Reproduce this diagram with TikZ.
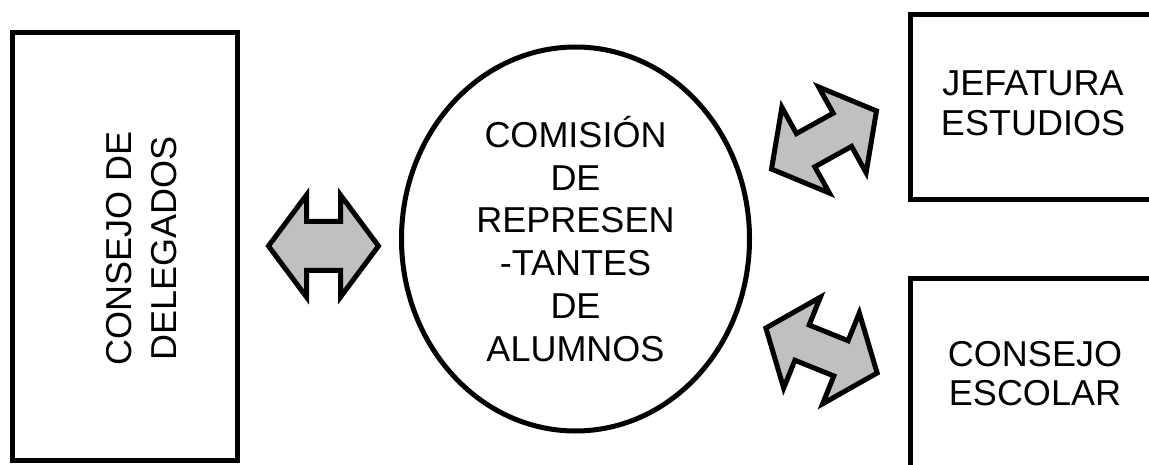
\documentclass[tikz,border=0pt]{standalone}
\usepackage{fontspec}
\setmainfont{Liberation Sans}
\usetikzlibrary{shapes.geometric}
\definecolor{arrowgray}{RGB}{192,192,192}
\tikzset{
  pics/dblarrow/.style n args={4}{code={%
    \path[blockarrow] (-#1,0) -- (-#2,#3) -- (-#2,#4) -- (#2,#4) -- (#2,#3) -- (#1,0)
      -- (#2,-#3) -- (#2,-#4) -- (-#2,-#4) -- (-#2,-#3) -- cycle;}}
}
\begin{document}
\begin{tikzpicture}[x=1pt,y=-1pt,
  box/.style={draw=black, line width=5pt, fill=white, inner sep=0pt},
  oval/.style={draw=black, line width=5pt, fill=white, ellipse, inner sep=0pt},
  lbl/.style={inner sep=0pt, align=center, anchor=north},
  blockarrow/.style={draw=black, line width=5pt, fill=arrowgray, line join=miter},
]
\useasboundingbox (0,0) rectangle (1149,465);
\clip (0,0) rectangle (1149,465);

% boxes
\node[box, minimum width=225.5pt, minimum height=427.5pt] (cd) at (124.75,246.25) {};
\node[box, minimum width=248pt, minimum height=185pt] (je) at (1034,107.5) {};
\node[box, minimum width=248pt, minimum height=190pt] (ce) at (1034,374) {};
\node[oval, minimum width=348pt, minimum height=384pt] (cra) at (575.5,239) {};

% texts
\node[lbl, rotate=90, font=\fontsize{36}{45}\selectfont] (cdt) at (95,248.5)
  {\rule{0pt}{36pt}CONSEJO DE\\DELEGADOS};
\node[lbl, font=\fontsize{36}{42.8}\selectfont] (crat) at (575.5,111)
  {\rule{0pt}{36pt}COMISIÓN\\DE\\REPRESEN\\-TANTES\\DE\\ALUMNOS};
\node[lbl, font=\fontsize{36}{40}\selectfont] (jet) at (1033,59)
  {\rule{0pt}{36pt}JEFATURA\\ESTUDIOS};
\node[lbl, font=\fontsize{36}{39}\selectfont] (cet) at (1035,330)
  {\rule{0pt}{36pt}CONSEJO\\ESCOLAR};

% block arrows
\pic (a1) at (323.5,246) {dblarrow={55}{17}{51}{24.5}};
\pic[rotate=29] (a2) at (824,140) {dblarrow={60}{21}{49}{19}};
\pic[rotate=-22] (a3) at (821.5,350.5) {dblarrow={60}{21}{49}{19}};
\end{tikzpicture}
\end{document}
